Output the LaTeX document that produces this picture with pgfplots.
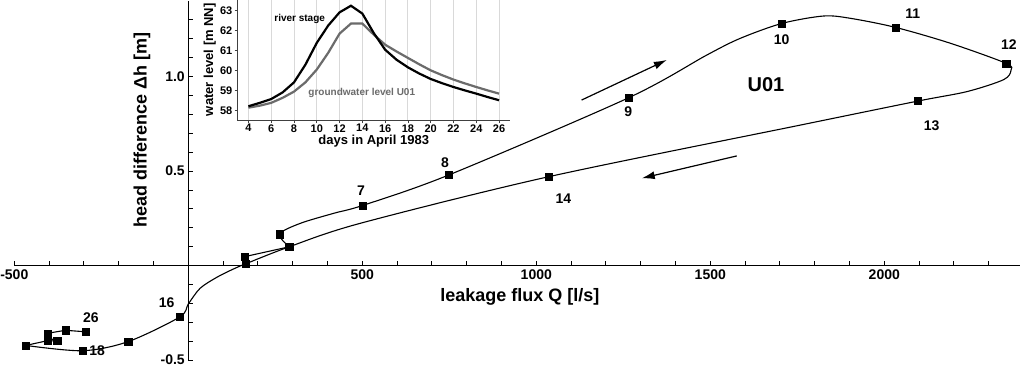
\documentclass[border=0pt]{standalone}
\usepackage{fontspec}
\setmainfont{Liberation Sans}
\usepackage{pgfplots}
\pgfplotsset{compat=1.18}
\usepackage{pgfplotstable}
\usetikzlibrary{arrows.meta}

% day points (leakage flux Q [l/s], head difference [m])
\pgfplotstableread{
x y
162 0.048
290 0.100
262 0.167
502 0.319
748 0.479
1265 0.887
1706 1.280
2032 1.259
2350 1.069
2097 0.870
1035 0.470
166 0.011
-25 -0.271
-173 -0.401
-304 -0.449
-467 -0.421
-405 -0.396
-377 -0.398
-405 -0.378
-405 -0.357
-353 -0.341
-294 -0.349
}\daypoints

% curve through the points
\pgfplotstableread{
x y
290 0.100
262 0.167
322 0.224
418 0.277
502 0.319
748 0.479
1265 0.887
1490 1.113
1586 1.201
1706 1.280
1825 1.319
1902 1.307
2032 1.259
2190 1.175
2350 1.069
2364 1.032
2343 0.983
2238 0.920
2097 0.870
1759 0.743
1035 0.470
494 0.224
290 0.100
166 0.011
130 -0.017
82 -0.061
34 -0.119
0 -0.202
-25 -0.271
-173 -0.401
-304 -0.449
-467 -0.421
}\curve

\pgfplotstableread{
x y
-467 -0.421
-405 -0.396
-377 -0.398
-405 -0.378
-405 -0.357
-353 -0.341
-294 -0.349
}\cluster

% inset: water levels
\pgfplotstableread{
day river gw
4 58.22 58.15
5 58.39 58.25
6 58.58 58.39
7 58.91 58.64
8 59.41 58.95
9 60.29 59.41
10 61.38 60.05
11 62.24 60.88
12 62.90 61.84
13 63.23 62.34
14 62.84 62.34
15 61.87 61.79
16 61.04 61.29
17 60.54 60.95
18 60.16 60.63
19 59.85 60.31
20 59.58 60.01
21 59.37 59.77
22 59.18 59.55
23 59.01 59.36
24 58.85 59.18
25 58.68 59.01
26 58.52 58.85
}\levels

\begin{document}
\begin{tikzpicture}
\begin{axis}[
  scale only axis, width=1005.7pt, height=359.7pt,
  xmin=-500, xmax=2390, ymin=-0.5, ymax=1.4,
  axis lines=middle,
  axis line style={line width=1.5pt,-},
  tick align=inside,
  major tick length=5pt, minor tick length=5pt,
  every tick/.style={black, line width=0.9pt},
  xtick={-500,500,1000,1500,2000},
  xticklabels={-500,500,1000,1500,2000},
  minor xtick={-400,-300,-200,-100,100,200,300,400,600,700,800,900,1100,1200,1300,1400,1600,1700,1800,1900,2100,2200,2300},
  ytick={-0.5,0.5,1.0},
  yticklabels={\raisebox{2.5pt}{-0.5},0.5,1.0},
  minor ytick={-0.4,-0.3,-0.2,-0.1,0.1,0.2,0.3,0.4,0.6,0.7,0.8,0.9,1.1,1.2,1.3},
  ticklabel style={font=\fontsize{14}{16}\selectfont\bfseries},
  clip=false,
]
\addplot[black, line width=1.1pt, sharp plot] coordinates {(162,0.048) (290,0.100)};
\addplot[black, line width=1.1pt, smooth, tension=0.5] table[x=x,y=y] {\curve};
\addplot[black, line width=1.1pt, sharp plot] table[x=x,y=y] {\cluster};
\addplot[only marks, mark=square*, mark size=3.6pt, black] table[x=x,y=y] {\daypoints};

\addplot[black, line width=1.2pt, -{Latex[length=13pt,width=8pt]}] coordinates {(1130,0.875) (1375,1.087)};
\addplot[black, line width=1.2pt, -{Latex[length=13pt,width=8pt]}] coordinates {(1576,0.580) (1303,0.462)};

\begin{scope}[every node/.style={font=\fontsize{14}{16}\selectfont\bfseries}]
\node at (axis cs:496,0.394) {7};
\node at (axis cs:738,0.544) {8};
\node at (axis cs:1264,0.814) {9};
\node at (axis cs:1705,1.196) {10};
\node at (axis cs:2082,1.330) {11};
\node at (axis cs:2358,1.170) {12};
\node at (axis cs:2136,0.738) {13};
\node at (axis cs:1078,0.356) {14};
\node at (axis cs:-62,-0.193) {16};
\node at (axis cs:-262,-0.449) {18};
\node at (axis cs:-280,-0.275) {26};
\end{scope}
\node[font=\fontsize{20}{22}\selectfont\bfseries] at (axis cs:1660,0.955) {U01};
\node[font=\fontsize{18}{20}\selectfont\bfseries] at (axis cs:953,-0.165) {leakage flux Q [l/s]};
\node[rotate=90, font=\fontsize{18}{20}\selectfont\bfseries] at (axis cs:-133,0.717) {head difference Δh [m]};

\coordinate (inset) at (axis cs:140,0.766);
\coordinate (bbBL) at (axis cs:-541.1,-0.5298);
\coordinate (bbTR) at (axis cs:2401.4,1.4036);
\end{axis}

\begin{axis}[
  at={(inset)}, anchor=south west,
  scale only axis, width=273.4pt, height=120.4pt,
  xmin=3, xmax=27, ymin=57.5, ymax=63.5,
  axis x line=bottom, axis y line=left,
  axis line style={line width=1pt, -, black!75},
  xtick={4,6,...,26}, ytick={58,59,...,63},
  tick align=outside, major tick length=2.5pt,
  every tick/.style={black!75, line width=0.8pt},
  xmajorgrids, grid style={black!15, line width=0.9pt},
  /pgf/number format/assume math mode=true,
  ticklabel style={font=\fontsize{11}{12}\selectfont\bfseries},
  xticklabel style={inner sep=1pt},
  yticklabel style={inner sep=2pt},
  axis background/.style={fill=white},
  clip=false,
]
\addplot[black!58, line width=2.2pt] table[x=day,y=gw] {\levels};
\addplot[black, line width=2.2pt] table[x=day,y=river] {\levels};
\node[font=\fontsize{10}{12}\selectfont\bfseries] at (axis cs:8.5,62.59) {river stage};
\node[font=\fontsize{10}{12}\selectfont\bfseries, text=black!58] at (axis cs:13.95,58.90) {groundwater level U01};
\node[font=\fontsize{13}{15}\selectfont\bfseries] at (axis cs:15,56.48) {days in April 1983};
\node[rotate=90, font=\fontsize{13}{15}\selectfont\bfseries] at (axis cs:0.6,60.54) {water level [m NN]};
\end{axis}
\pgfresetboundingbox
\useasboundingbox (bbBL) rectangle (bbTR);
\end{tikzpicture}
\end{document}
